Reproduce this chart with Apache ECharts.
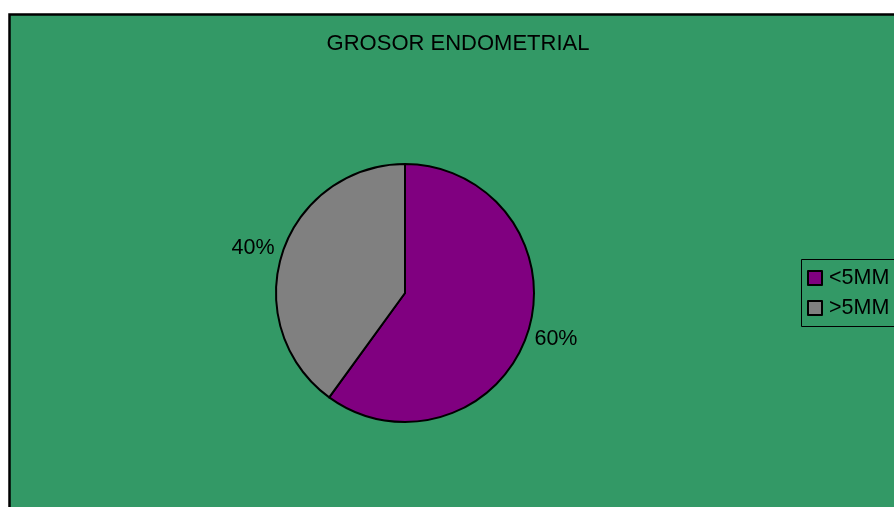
<!DOCTYPE html>
<html>
<head>
<meta charset="utf-8">
<script src="https://cdn.jsdelivr.net/npm/echarts@6/dist/echarts.min.js"></script>
<style>
html,body{margin:0;padding:0;background:#fff;}
#main{width:894px;height:507px;}
</style>
</head>
<body>
<div id="main"></div>
<script>
var titleText = 'GROSOR ENDOMETRIAL';
var categories = ['<5MM', '>5MM'];
var values = [60, 40];
var colors = ['#800080', '#808080'];

var chart = echarts.init(document.getElementById('main'), null, {renderer: 'canvas'});
var font = '"Liberation Sans", Arial, sans-serif';
chart.setOption({
  backgroundColor: '#ffffff',
  animation: false,
  graphic: [
    {type: 'rect', z: -10, shape: {x: 9.5, y: 14.5, width: 1000, height: 600},
     style: {fill: '#339966', stroke: '#000', lineWidth: 2.5}},
    {type: 'rect', z: -5, shape: {x: 801.5, y: 259.5, width: 200, height: 67},
     style: {fill: 'none', stroke: '#000', lineWidth: 1}}
  ],
  title: {
    text: titleText,
    left: 453, top: 28, textAlign: 'center',
    textStyle: {fontFamily: font, fontSize: 22, fontWeight: 'normal', color: '#000'}
  },
  legend: {
    orient: 'vertical',
    left: 807, top: 267,
    padding: 0,
    itemWidth: 14, itemHeight: 14, itemGap: 8,
    icon: 'rect',
    textStyle: {fontFamily: font, fontSize: 21.5, color: '#000', padding: [0,0,0,2]},
    data: categories
  },
  series: [{
    type: 'pie',
    center: [405, 293],
    radius: 129,
    startAngle: 90,
    clockwise: true,
    avoidLabelOverlap: false,
    itemStyle: {borderColor: '#000', borderWidth: 2},
    label: {
      show: true, position: 'outside',
      formatter: '{d}%',
      fontFamily: font, fontSize: 21.5, color: '#000'
    },
    labelLine: {show: false, length: 5, length2: 0},
    labelLayout: function (p) {
      return p.dataIndex === 0 ? {dx: -3, dy: 5} : {dx: 2, dy: -4};
    },
    emphasis: {disabled: true},
    data: categories.map(function (c, i) {
      return {name: c, value: values[i], itemStyle: {color: colors[i]}};
    })
  }]
});
</script>
</body>
</html>
